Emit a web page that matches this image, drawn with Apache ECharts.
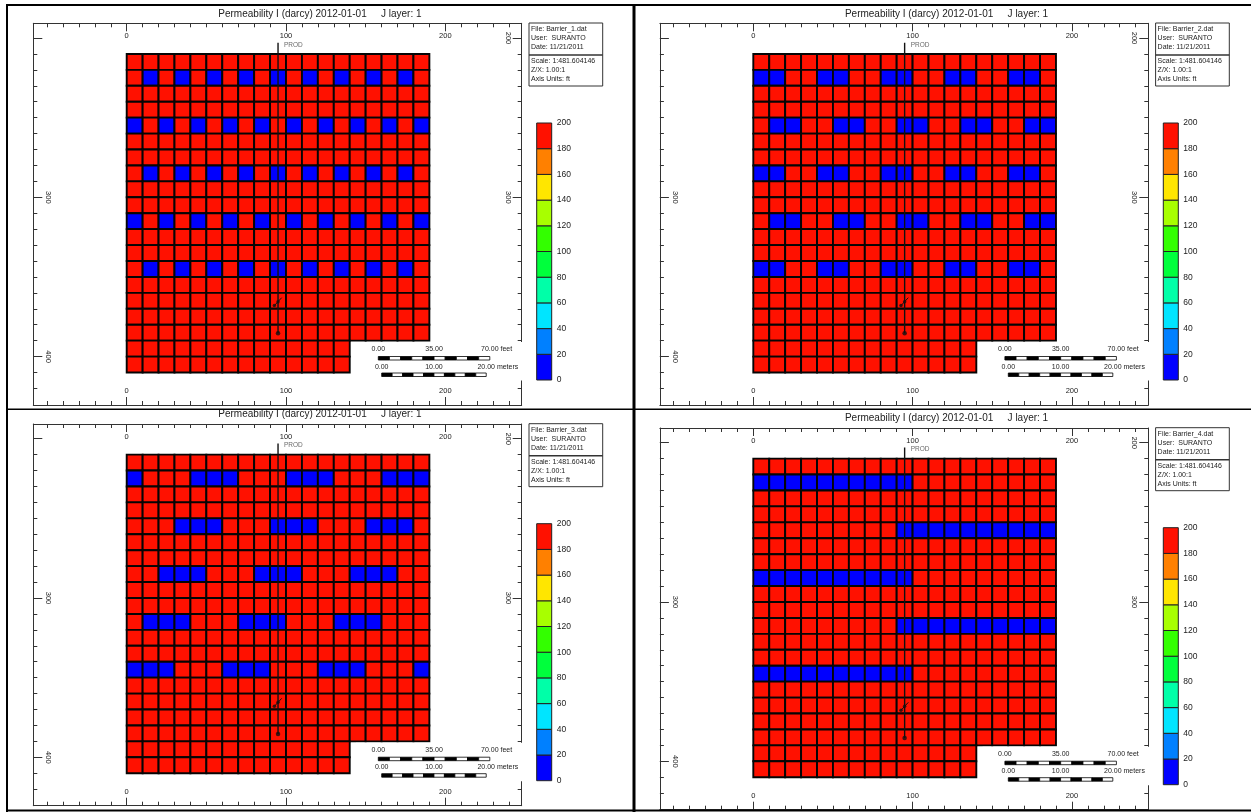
<!DOCTYPE html>
<html><head><meta charset="utf-8">
<script src="https://cdn.jsdelivr.net/npm/echarts@6/dist/echarts.min.js"></script>
<style>html,body{margin:0;padding:0;background:#fff}#c{width:1251px;height:812px}</style>
</head><body><div id="c"></div>
<script>
// ================= DATA =================
const CELL = 10;                       // cell size (ft)
const colStarts = [0,10,20,30,40,50,60,70,80,90,100,110,120,130,140,150,160,170,180];
const rowStarts = [210,220,230,240,250,260,270,280,290,300,310,320,330,340,350,360,370,380,390,400];
const PERM_HIGH = 200;   // 'H'
const PERM_LOW = 0;      // 'L'
// one string per row (top to bottom), one char per column; '.' = inactive cell
const barrier1 = [
 'HHHHHHHHHHHHHHHHHHH','HLHLHLHLHLHLHLHLHLH','HHHHHHHHHHHHHHHHHHH','HHHHHHHHHHHHHHHHHHH',
 'LHLHLHLHLHLHLHLHLHL','HHHHHHHHHHHHHHHHHHH','HHHHHHHHHHHHHHHHHHH','HLHLHLHLHLHLHLHLHLH',
 'HHHHHHHHHHHHHHHHHHH','HHHHHHHHHHHHHHHHHHH','LHLHLHLHLHLHLHLHLHL','HHHHHHHHHHHHHHHHHHH',
 'HHHHHHHHHHHHHHHHHHH','HLHLHLHLHLHLHLHLHLH','HHHHHHHHHHHHHHHHHHH','HHHHHHHHHHHHHHHHHHH',
 'HHHHHHHHHHHHHHHHHHH','HHHHHHHHHHHHHHHHHHH','HHHHHHHHHHHHHH.....','HHHHHHHHHHHHHH.....'
];
const barrier2 = [
 'HHHHHHHHHHHHHHHHHHH','LLHHLLHHLLHHLLHHLLH','HHHHHHHHHHHHHHHHHHH','HHHHHHHHHHHHHHHHHHH',
 'HLLHHLLHHLLHHLLHHLL','HHHHHHHHHHHHHHHHHHH','HHHHHHHHHHHHHHHHHHH','LLHHLLHHLLHHLLHHLLH',
 'HHHHHHHHHHHHHHHHHHH','HHHHHHHHHHHHHHHHHHH','HLLHHLLHHLLHHLLHHLL','HHHHHHHHHHHHHHHHHHH',
 'HHHHHHHHHHHHHHHHHHH','LLHHLLHHLLHHLLHHLLH','HHHHHHHHHHHHHHHHHHH','HHHHHHHHHHHHHHHHHHH',
 'HHHHHHHHHHHHHHHHHHH','HHHHHHHHHHHHHHHHHHH','HHHHHHHHHHHHHH.....','HHHHHHHHHHHHHH.....'
];
const barrier3 = [
 'HHHHHHHHHHHHHHHHHHH','LHHHLLLHHHLLLHHHLLL','HHHHHHHHHHHHHHHHHHH','HHHHHHHHHHHHHHHHHHH',
 'HHHLLLHHHLLLHHHLLLH','HHHHHHHHHHHHHHHHHHH','HHHHHHHHHHHHHHHHHHH','HHLLLHHHLLLHHHLLLHH',
 'HHHHHHHHHHHHHHHHHHH','HHHHHHHHHHHHHHHHHHH','HLLLHHHLLLHHHLLLHHH','HHHHHHHHHHHHHHHHHHH',
 'HHHHHHHHHHHHHHHHHHH','LLLHHHLLLHHHLLLHHHL','HHHHHHHHHHHHHHHHHHH','HHHHHHHHHHHHHHHHHHH',
 'HHHHHHHHHHHHHHHHHHH','HHHHHHHHHHHHHHHHHHH','HHHHHHHHHHHHHH.....','HHHHHHHHHHHHHH.....'
];
const barrier4 = [
 'HHHHHHHHHHHHHHHHHHH','LLLLLLLLLLHHHHHHHHH','HHHHHHHHHHHHHHHHHHH','HHHHHHHHHHHHHHHHHHH',
 'HHHHHHHHHLLLLLLLLLL','HHHHHHHHHHHHHHHHHHH','HHHHHHHHHHHHHHHHHHH','LLLLLLLLLLHHHHHHHHH',
 'HHHHHHHHHHHHHHHHHHH','HHHHHHHHHHHHHHHHHHH','HHHHHHHHHLLLLLLLLLL','HHHHHHHHHHHHHHHHHHH',
 'HHHHHHHHHHHHHHHHHHH','LLLLLLLLLLHHHHHHHHH','HHHHHHHHHHHHHHHHHHH','HHHHHHHHHHHHHHHHHHH',
 'HHHHHHHHHHHHHHHHHHH','HHHHHHHHHHHHHHHHHHH','HHHHHHHHHHHHHH.....','HHHHHHHHHHHHHH.....'
];
const fileNames = ['Barrier_1.dat','Barrier_2.dat','Barrier_3.dat','Barrier_4.dat'];
const titleMain = 'Permeability I (darcy) 2012-01-01';
const titleLayer = 'J layer: 1';
const infoTop = ['User:  SURANTO','Date: 11/21/2011'];
const infoBottom = ['Scale: 1:481.604146','Z/X: 1.00:1','Axis Units: ft'];
// colour legend
const bandEdges = [0,20,40,60,80,100,120,140,160,180,200];
const bandColors = ['#0000ff','#0080ff','#00e5ff','#00ffa8','#00ff3c','#33ff00','#a8ff00','#ffe600','#ff8000','#ff1100'];
// axis ticks
const xTicks = [-50,-40,-30,-20,-10,0,10,20,30,40,50,60,70,80,90,100,110,120,130,140,150,160,170,180,190,200,210,220,230,240];
const xMajor = [0,100,200];
const yTicks = [200,210,220,230,240,250,260,270,280,290,300,310,320,330,340,350,360,370,380,390,400,410,420];
const yMajor = [200,300,400];
const yLabelsLeft = [300,400];
const yLabelsRight = [200,300];
// well PROD trajectory (ft)
const wellPath = [[95,203],[95,385.4]];
const wellMark = [[92.7,368],[97.3,363]];
const wellDots = [[92.7,368],[95,365.5]];
const wellBottom = [[95,385.4]];
const wellName = 'PROD';
// scale bars
const feetTicks = ['0.00','35.00','70.00 feet'];
const meterTicks = ['0.00','10.00','20.00 meters'];

// ================= LAYOUT =================
const K = 1.593;                // px per ft
const FONT = 'Liberation Sans, Arial, sans-serif';
const TXT = '#222';
const AX = {color:'#333', width:1};
const base = {ox:126.7, oy:38, L:33.3, T:23.3, R:521.7, B:405};
const offsets = [[0,0],[626.6,0],[0,400.7],[626.6,404.7]];

function colorFor(v){ let i = Math.floor(v/20); if(i>9) i=9; if(i<0) i=0; return bandColors[i]; }

const grid=[], xAxis=[], yAxis=[], series=[], graphic=[];
const maps = [barrier1,barrier2,barrier3,barrier4];

offsets.forEach(([dx,dy],p)=>{
  const ox=base.ox+dx, oy=base.oy+dy, L=base.L+dx, T=base.T+dy, R=base.R+dx, B=base.B+dy;
  const gi = grid.length;
  grid.push({left:L, top:T, width:R-L, height:B-T, containLabel:false});
  const xmin=(L-ox)/K, xmax=(R-ox)/K, ymin=200+(T-oy)/K, ymax=200+(B-oy)/K;
  const bx = {type:'value', gridIndex:gi, min:xmin, max:xmax, splitLine:{show:false}};
  const by = {type:'value', gridIndex:gi, min:ymin, max:ymax, inverse:true, splitLine:{show:false}};
  const xi = xAxis.length, yi = yAxis.length;
  ['top','bottom'].forEach(pos=>{
    xAxis.push(Object.assign({}, bx, {position:pos, axisLine:{show:true,onZero:false,lineStyle:AX},
      axisTick:{show:true,inside:true,length:4,customValues:xTicks,lineStyle:AX}, axisLabel:{show:false}}));
    xAxis.push(Object.assign({}, bx, {position:pos, axisLine:{show:false,onZero:false},
      axisTick:{show:true,inside:true,length:8,customValues:xMajor,lineStyle:AX},
      axisLabel:{show:true,inside:true,customValues:xMajor,fontSize:7.5,color:TXT,fontFamily:FONT,margin:pos==='top'?9:10}}));
  });
  [['left',yLabelsLeft],['right',yLabelsRight]].forEach(([pos,labs])=>{
    yAxis.push(Object.assign({}, by, {position:pos, axisLine:{show:true,onZero:false,lineStyle:AX},
      axisTick:{show:true,inside:true,length:4,customValues:yTicks,lineStyle:AX}, axisLabel:{show:false}}));
    yAxis.push(Object.assign({}, by, {position:pos, axisLine:{show:false,onZero:false},
      axisTick:{show:true,inside:true,length:9,customValues:yMajor,lineStyle:AX},
      axisLabel:{show:true,inside:true,customValues:labs,rotate:-90,fontSize:7.5,color:TXT,fontFamily:FONT,margin:pos==='left'?11:10}}));
  });
  // cells
  const cells=[];
  maps[p].forEach((row,r)=>{ for(let c=0;c<row.length;c++){ const ch=row[c]; if(ch==='.') continue;
    cells.push([colStarts[c], rowStarts[r], ch==='L'?PERM_LOW:PERM_HIGH]); }});
  series.push({type:'custom', xAxisIndex:xi, yAxisIndex:yi, data:cells, encode:{x:0,y:1}, silent:true, z:2,
    renderItem:(params,api)=>{
      const x=api.value(0), y=api.value(1), v=api.value(2);
      const p0=api.coord([x,y]), p1=api.coord([x+CELL,y+CELL]);
      return {type:'rect', shape:{x:p0[0],y:p0[1],width:p1[0]-p0[0],height:p1[1]-p0[1]},
        style:{fill:colorFor(v), stroke:'#050505', lineWidth:1.9}};
    }});
  // well
  series.push({type:'line', xAxisIndex:xi, yAxisIndex:yi, data:wellPath, showSymbol:false, silent:true, z:5,
    lineStyle:{color:'#111',width:1.4}});
  series.push({type:'line', xAxisIndex:xi, yAxisIndex:yi, data:wellMark, showSymbol:false, silent:true, z:5,
    lineStyle:{color:'#111',width:1}});
  series.push({type:'scatter', xAxisIndex:xi, yAxisIndex:yi, data:wellDots, symbolSize:3.5, silent:true, z:6,
    itemStyle:{color:'#111'}});
  series.push({type:'scatter', xAxisIndex:xi, yAxisIndex:yi, data:wellBottom, symbolSize:4.5, silent:true, z:6,
    itemStyle:{color:'#111'}});
  series.push({type:'scatter', xAxisIndex:xi, yAxisIndex:yi, data:[wellPath[0]], symbolSize:0, silent:true, z:6,
    label:{show:true, formatter:wellName, position:'right', distance:6, offset:[0,2], fontSize:6.5, color:'#444', fontFamily:FONT}});

  // colour bar
  const cg = grid.length;
  grid.push({left:536.7+dx, top:123+dy, width:15, height:257, containLabel:false});
  const cxi = xAxis.length, cyi = yAxis.length;
  xAxis.push({type:'value', gridIndex:cg, min:0, max:1, show:false});
  yAxis.push({type:'value', gridIndex:cg, min:0, max:200, interval:20, position:'right',
    axisLine:{show:false}, axisTick:{show:false}, splitLine:{show:false},
    axisLabel:{fontSize:8.5, color:TXT, fontFamily:FONT, margin:5}});
  const bands = bandColors.map((c,i)=>[bandEdges[i], bandEdges[i+1], i]);
  series.push({type:'custom', xAxisIndex:cxi, yAxisIndex:cyi, data:bands, silent:true, encode:{y:[0,1]},
    renderItem:(params,api)=>{
      const lo=api.value(0), hi=api.value(1), i=api.value(2);
      const a=api.coord([0,hi]), b=api.coord([1,lo]);
      return {type:'rect', shape:{x:a[0],y:a[1],width:b[0]-a[0],height:b[1]-a[1]},
        style:{fill:bandColors[i], stroke:'#222', lineWidth:1}};
    }});

  // titles
  const tstyle = (t,x,y,fs,al)=>({type:'text', x:x, y:y, z:50, silent:true,
    style:{text:t, fill:TXT, fontSize:fs, fontFamily:FONT, align:al||'left', textAlign:al||'left', verticalAlign:'middle', textVerticalAlign:'middle'}});
  graphic.push(tstyle(titleMain, 218.3+dx, 14+dy, 10));
  graphic.push(tstyle(titleLayer, 381+dx, 14+dy, 10));
  // info box
  graphic.push({type:'rect', z:50, silent:true, shape:{x:529+dx,y:23+dy,width:73.7,height:63}, style:{fill:'#fff',stroke:'#333',lineWidth:1}});
  graphic.push({type:'line', z:51, silent:true, shape:{x1:529+dx,y1:55+dy,x2:602.7+dx,y2:55+dy}, style:{stroke:'#333',lineWidth:1.5}});
  const infoLines = ['File: '+fileNames[p]].concat(infoTop);
  infoLines.forEach((t,i)=>graphic.push(tstyle(t, 531+dx, 29.2+9.1*i+dy, 7)));
  infoBottom.forEach((t,i)=>graphic.push(tstyle(t, 531+dx, 61+9.2*i+dy, 7)));
  // scale bars
  graphic.push({type:'rect', z:40, silent:true, shape:{x:356+dx,y:342+dy,width:168,height:38.5}, style:{fill:'#fff'}});
  const fx0=378.3+dx, fw=70*K, mx0=381.7+dx, mw=20/0.3048*K;
  graphic.push(tstyle(feetTicks[0], fx0, 349.3+dy, 7, 'center'));
  graphic.push(tstyle(feetTicks[1], fx0+fw/2, 349.3+dy, 7, 'center'));
  graphic.push(tstyle(feetTicks[2], fx0+fw-8.8, 349.3+dy, 7));
  graphic.push(tstyle(meterTicks[0], mx0, 366.7+dy, 7, 'center'));
  graphic.push(tstyle(meterTicks[1], mx0+mw/2, 366.7+dy, 7, 'center'));
  graphic.push(tstyle(meterTicks[2], mx0+mw-8.8, 366.7+dy, 7));
  for(let s=0;s<10;s++){
    graphic.push({type:'rect', z:45, silent:true, shape:{x:fx0+fw*s/10,y:356.5+dy,width:fw/10,height:3.5},
      style:{fill:s%2?'#fff':'#000',stroke:'#000',lineWidth:0.8}});
    graphic.push({type:'rect', z:45, silent:true, shape:{x:mx0+mw*s/10,y:373+dy,width:mw/10,height:3.5},
      style:{fill:s%2?'#fff':'#000',stroke:'#000',lineWidth:0.8}});
  }
});

// page frame
const fl = (x1,y1,x2,y2,w)=>({type:'line', z:60, silent:true, shape:{x1,y1,x2,y2}, style:{stroke:'#000',lineWidth:w}});
graphic.push(fl(7,5,1251,5,2), fl(7,4,7,812,2), fl(7,810.5,1251,810.5,2), fl(634,4,634,812,3), fl(7,409.3,1251,409.3,1.5));

const chart = echarts.init(document.getElementById('c'), null, {renderer:'canvas'});
chart.setOption({backgroundColor:'#fff', animation:false, textStyle:{fontFamily:FONT},
  grid, xAxis, yAxis, series, graphic});
</script></body></html>
